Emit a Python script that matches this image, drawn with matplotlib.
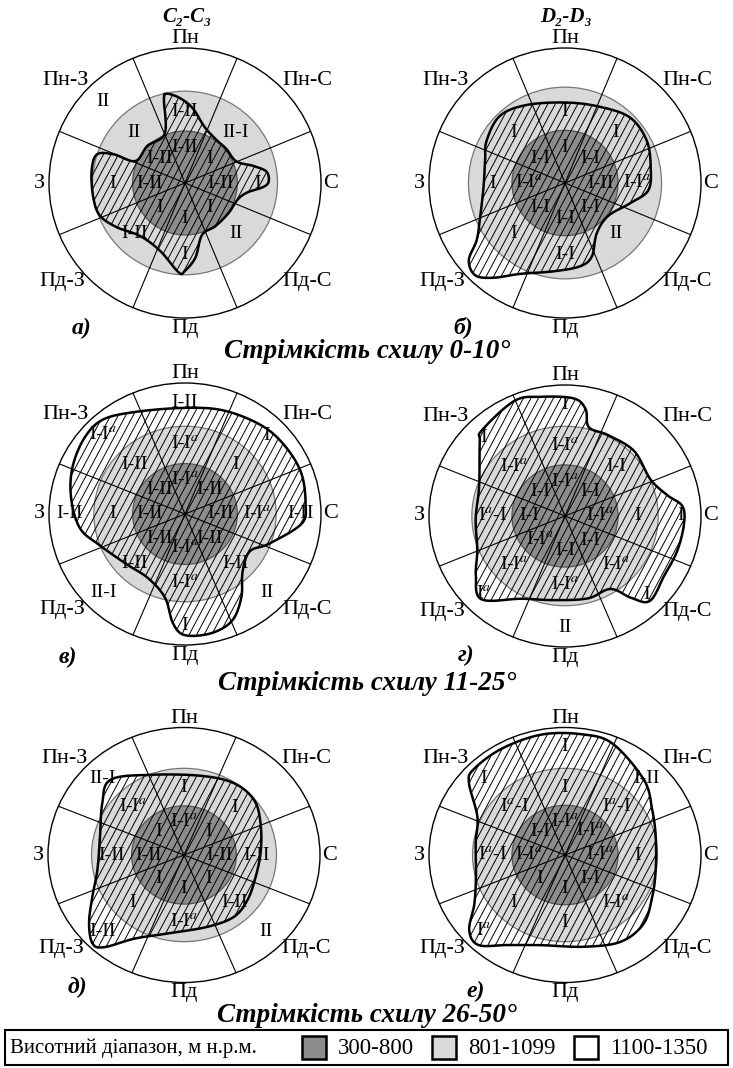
import numpy as np
import matplotlib
matplotlib.use("Agg")
import matplotlib.pyplot as plt
from matplotlib.patches import Ellipse, Polygon, Rectangle
from matplotlib.collections import LineCollection

plt.rcParams['font.family'] = ['Liberation Serif', 'DejaVu Serif']
plt.rcParams['mathtext.fontset'] = 'stix'

W, H = 733, 1068

# --- dani ---
directions = ['Пн', 'Пн-С', 'С', 'Пд-С', 'Пд', 'Пд-З', 'З', 'Пн-З']
zones = ['300-800', '801-1099', '1100-1350']
zone_colors = ['#8c8c8c', '#d9d9d9', '#ffffff']
legend_title = 'Висотний діапазон, м н.р.м.'
slope_titles = ['Стрімкість схилу 0-10°', 'Стрімкість схилу 11-25°', 'Стрімкість схилу 26-50°']
rock_titles = ['C₂-C₃', 'D₂-D₃']
panel_letters = ['а)', 'б)', 'в)', 'г)', 'д)', 'е)']

A = 'I-I$^{a}$'
AR = 'I$^{a}$-I'

# kontur (azymut, vidnosnyi radius) dlia kozhnoi diagramy
shape_a_deg = [348.5, 356.6, 6, 19, 35, 50, 67, 76, 82, 89, 93, 99, 108, 125, 145, 162,
               172, 180, 184, 200, 220, 237, 249, 261, 277, 288, 292, 294, 315, 338, 346]
shape_a_r = [0.675, 0.63, 0.555, 0.44, 0.395, 0.395, 0.41, 0.52, 0.605, 0.615, 0.575, 0.46,
             0.405, 0.39, 0.39, 0.405, 0.556, 0.65, 0.664, 0.535, 0.513, 0.60, 0.671, 0.683,
             0.692, 0.682, 0.567, 0.40, 0.39, 0.396, 0.64]
shape_b_deg = [1, 24.5, 44.6, 62.4, 79.4, 95, 107.6, 127.8, 148, 160, 170, 187.5, 206, 217,
               224, 231, 237, 248, 267, 286, 298.6, 316, 334]
shape_b_r = [0.596, 0.62, 0.681, 0.678, 0.641, 0.615, 0.50, 0.40, 0.44, 0.578, 0.627, 0.66,
             0.749, 0.879, 0.95, 0.91, 0.774, 0.673, 0.60, 0.611, 0.656, 0.69, 0.643]
shape_v_deg = [0, 20, 40, 55, 70, 85, 95, 110, 121, 136, 147, 157, 168, 180, 186, 193, 209,
               228, 249, 262, 278, 293, 308, 320, 335]
shape_v_r = [0.81, 0.84, 0.88, 0.9, 0.91, 0.89, 0.86, 0.66, 0.555, 0.61, 0.76, 0.885, 0.93,
             0.925, 0.84, 0.655, 0.56, 0.575, 0.67, 0.78, 0.845, 0.9, 0.94, 0.94, 0.86]
shape_g_deg = [4, 10.5, 14.5, 27, 45.6, 66, 78, 85, 94, 108, 122, 136, 142, 149, 165, 187,
               207, 224, 235, 248, 268, 290, 312, 317, 337, 349]
shape_g_r = [0.90, 0.83, 0.70, 0.694, 0.71, 0.688, 0.768, 0.866, 0.877, 0.867, 0.86, 0.90,
             0.794, 0.65, 0.651, 0.647, 0.709, 0.884, 0.80, 0.696, 0.657, 0.672, 0.843, 0.895,
             0.954, 0.927]
shape_d_deg = [317.5, 338.7, 11, 33, 50, 66, 87, 108, 127, 143, 163, 191, 209, 219, 224,
               232.5, 244, 259.5, 283, 304]
shape_d_r = [0.80, 0.675, 0.633, 0.672, 0.672, 0.616, 0.565, 0.554, 0.585, 0.608, 0.589,
             0.627, 0.75, 0.93, 0.967, 0.88, 0.75, 0.648, 0.634, 0.725]
shape_e_deg = [315, 331, 350, 8, 22, 44.6, 61, 78, 100, 117, 133, 149, 169, 194, 211, 222,
               230, 240, 255, 278, 295, 308.6]
shape_e_r = [0.95, 0.955, 0.96, 0.955, 0.94, 0.827, 0.733, 0.682, 0.677, 0.72, 0.79, 0.794,
             0.733, 0.729, 0.824, 0.95, 0.919, 0.77, 0.678, 0.663, 0.711, 0.903]

# pidpysy sektoriv: Pn, Pn-S, S, Pd-S, Pd, Pd-Z, Z, Pn-Z
inner_a = ['I-II', 'I', 'I-II', 'I', 'I', 'I', 'I-II', 'I-II']
mid_a = ['I-II', 'II-I', 'I', 'II', 'I', 'I-II', 'I', 'II']
outer_a = ['', '', '', '', '', '', '', 'II']
inner_b = ['I', 'I-I', 'I-II', 'I-I', 'I-I', 'I-I', A, 'I-I']
mid_b = ['I', 'I', A, 'II', 'I-I', 'I', 'I', 'I']
outer_b = ['', '', '', '', '', '', '', '']
inner_v = [A, 'I-II', 'I-II', 'I-II', A, 'I-II', 'I-II', 'I-II']
mid_v = [A, 'I', A, 'I-II', A, 'I-II', 'I', 'I-II']
outer_v = ['I-II', 'I', 'I-II', 'II', 'I', 'II-I', 'I-II', A]
inner_g = [A, 'I-I', A, 'I-I', 'I-I', A, 'I-I', 'I-I']
mid_g = [A, 'I-I', 'I', A, A, A, AR, A]
outer_g = ['I', '', 'I', 'I', 'II', 'I$^{a}$', '', 'I']
inner_d = [A, 'I', 'I-II', 'I', 'I', 'I', 'I-II', 'I']
mid_d = ['I', 'I', 'I-II', 'I-II', A, 'I', 'I-II', A]
outer_d = ['', '', '', 'II', '', 'I-II', '', 'II-I']
inner_e = [A, A, A, 'I-I', 'I', 'I', A, 'I-I']
mid_e = ['I', AR, 'I', A, 'I', 'I', AR, AR]
outer_e = ['I', 'I-II', '', '', '', 'I$^{a}$', '', 'I']

# --- maket (pikseli) ---
centers = [(185, 183), (565, 183), (185, 514), (565, 516), (184, 855), (565, 855)]
rad_v = [135, 135, 131, 131, 127.5, 127.5]
rad_h = 136
ring_r1 = [0.385, 0.39, 0.385, 0.39, 0.385, 0.39]
ring_r2 = [0.68, 0.71, 0.67, 0.685, 0.68, 0.68]
letter_pos = [(82, 328), (463, 327), (68, 657), (466, 655), (77, 987), (476, 991)]

shapes = [(shape_a_deg, shape_a_r), (shape_b_deg, shape_b_r), (shape_v_deg, shape_v_r),
          (shape_g_deg, shape_g_r), (shape_d_deg, shape_d_r), (shape_e_deg, shape_e_r)]
labels = [(inner_a, mid_a, outer_a), (inner_b, mid_b, outer_b), (inner_v, mid_v, outer_v),
          (inner_g, mid_g, outer_g), (inner_d, mid_d, outer_d), (inner_e, mid_e, outer_e)]

dir_xy = [(0, 1.07), (0.9, 0.76), (1.07, 0), (0.9, -0.73),
          (0, -1.08), (-0.9, -0.73), (-1.07, 0), (-0.88, 0.76)]


def closed_curve(xs, ys, steps=24):
    p = np.column_stack([xs, ys])
    n = len(p)
    t = np.linspace(0, 1, steps, endpoint=False)[:, None]
    out = []
    for i in range(n):
        p0, p1, p2, p3 = p[i - 1], p[i], p[(i + 1) % n], p[(i + 2) % n]
        seg = 0.5 * (2 * p1 + (-p0 + p2) * t + (2 * p0 - 5 * p1 + 4 * p2 - p3) * t ** 2
                     + (-p0 + 3 * p1 - 3 * p2 + p3) * t ** 3)
        out.append(seg)
    return np.vstack(out)


fig = plt.figure(figsize=(W / 100, H / 100), dpi=100)

LIM = 1.35
for k in range(6):
    cx, cy = centers[k]
    rv = rad_v[k]
    w_px = 2 * LIM * rad_h
    h_px = 2 * LIM * rv
    ax = fig.add_axes([(cx - w_px / 2) / W, 1 - (cy + h_px / 2) / H, w_px / W, h_px / H])
    ax.set_xlim(-LIM, LIM)
    ax.set_ylim(-LIM, LIM)
    ax.axis('off')
    ax.patch.set_alpha(0)

    ax.add_patch(Ellipse((0, 0), 2, 2, facecolor='white', edgecolor='black', lw=1.0, zorder=1))
    ax.add_patch(Ellipse((0, 0), 2 * ring_r2[k], 2 * ring_r2[k], facecolor=zone_colors[1],
                         edgecolor='#777777', lw=0.9, zorder=2))
    ax.add_patch(Ellipse((0, 0), 2 * ring_r1[k], 2 * ring_r1[k], facecolor=zone_colors[0],
                         edgecolor='#555555', lw=0.9, zorder=3))

    # zashtrykhovana oblast
    deg, rr = shapes[k]
    th = np.radians(deg)
    pts = closed_curve(np.array(rr) * np.sin(th), np.array(rr) * np.cos(th))
    outline = Polygon(pts, closed=True, facecolor='none', edgecolor='black', lw=1.8, zorder=6)
    ax.add_patch(outline)

    ang = np.radians(62)
    step = 7.5 / rad_h
    segs = []
    for x0 in np.arange(-2.2, 2.2, step):
        y0, y1 = -1.2, 1.2
        segs.append([(x0 + y0 * rv / rad_h / np.tan(ang), y0),
                     (x0 + y1 * rv / rad_h / np.tan(ang), y1)])
    hatch = LineCollection(segs, colors='black', linewidths=0.7, zorder=4)
    ax.add_collection(hatch)
    hatch.set_clip_path(outline)

    # sektory
    for a in [22.5, 67.5, 112.5, 157.5]:
        s, c = np.sin(np.radians(a)), np.cos(np.radians(a))
        ax.plot([-s, s], [-c, c], color='black', lw=0.8, zorder=5)

    # napriamky
    for name, (x, y) in zip(directions, dir_xy):
        ax.text(x, y, name, ha='center', va='center', fontsize=16, zorder=8)

    # pidpysy kilets
    inner, mid, outer = labels[k]
    for ring, rpos in zip((inner, mid, outer), (0.26, 0.53, 0.85)):
        for j, lab in enumerate(ring):
            if not lab:
                continue
            a = np.radians(45 * j)
            ax.text(rpos * np.sin(a), rpos * np.cos(a), lab, ha='center', va='center',
                    fontsize=14, zorder=7)

    lx, ly = letter_pos[k]
    fig.text(lx / W, 1 - ly / H, panel_letters[k], ha='center', va='center',
             fontsize=17, fontweight='bold', fontstyle='italic')

for name, x in zip(rock_titles, [187, 566]):
    fig.text(x / W, 1 - 17 / H, name, ha='center', va='center', fontsize=15,
             fontweight='bold', fontstyle='italic')

for name, y in zip(slope_titles, [352, 684, 1016]):
    fig.text(367 / W, 1 - y / H, name, ha='center', va='center', fontsize=19.5,
             fontweight='bold', fontstyle='italic')

# legenda
fig.add_artist(Rectangle((5 / W, 1 - 1065 / H), 723 / W, 35 / H, transform=fig.transFigure,
                         facecolor='white', edgecolor='black', lw=1.5))
fig.text(10 / W, 1 - 1048 / H, legend_title, ha='left', va='center', fontsize=15)
sq_x = [302, 432, 574]
lab_x = [338, 468, 610]
for col, lab, sx, tx in zip(zone_colors, zones, sq_x, lab_x):
    fig.add_artist(Rectangle((sx / W, 1 - 1059 / H), 24 / W, 23 / H, transform=fig.transFigure,
                             facecolor=col, edgecolor='black', lw=1.8))
    fig.text(tx / W, 1 - 1048 / H, lab, ha='left', va='center', fontsize=16.5)

fig.savefig('out.png', dpi=100)
